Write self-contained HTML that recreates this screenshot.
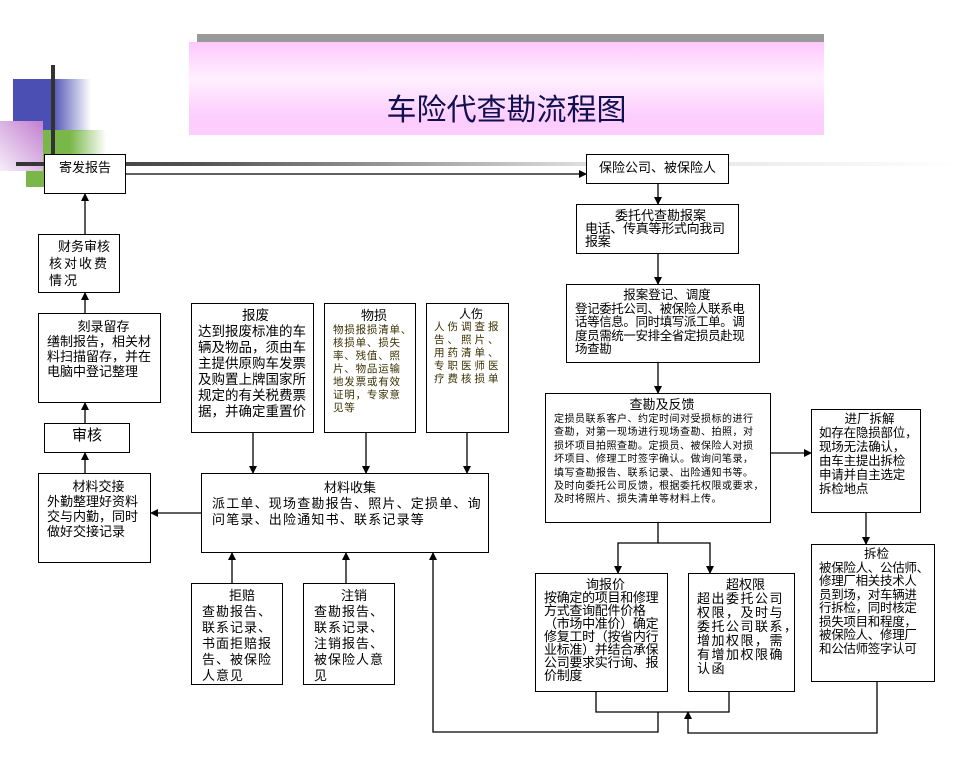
<!DOCTYPE html>
<html><head><meta charset="utf-8"><style>
body{margin:0;width:964px;height:765px;position:relative;overflow:hidden;background:#fff;font-family:"Liberation Sans","Noto Sans CJK SC","WenQuanYi Zen Hei",sans-serif;color:#000}
.b{position:absolute;border:1.5px solid #000;background:#fff;box-sizing:border-box;font-size:12.5px;line-height:14px;padding:2px 4px;white-space:nowrap;overflow:hidden}
.c{text-align:center}
.t{text-align:center;display:block;letter-spacing:0}
</style></head><body>
<div style="position:absolute;left:197px;top:34px;width:627px;height:10px;background:#999"></div>
<div style="position:absolute;left:189px;top:42px;width:635px;height:93px;background:linear-gradient(#fdc8fd,#fff0ff 40%,#fdcdfd 80%)"></div>
<div style="position:absolute;left:189px;top:92px;width:635px;text-align:center;font-size:30px;line-height:38px;color:#101050">车险代查勘流程图</div>
<div style="position:absolute;left:13px;top:79px;width:78px;height:52px;background:linear-gradient(90deg,#4b4fb3 50%,rgba(75,79,179,0) 100%)"></div>
<div style="position:absolute;left:26px;top:130px;width:80px;height:57px;background:linear-gradient(90deg,#79b848 55%,rgba(121,184,72,0) 100%)"></div>
<div style="position:absolute;left:0;top:121px;width:43px;height:50px;background:linear-gradient(225deg,#c27fd0,#f7eef9)"></div>
<div style="position:absolute;left:51px;top:65px;width:4px;height:92px;background:#333"></div>
<div style="position:absolute;left:16px;top:162px;width:940px;height:4px;background:linear-gradient(90deg,#333,#555 20%,#ddd 60%,#fff)"></div>
<svg width="964" height="765" style="position:absolute;left:0;top:0">
<defs><marker id="a" markerWidth="8" markerHeight="8" refX="7" refY="4" orient="auto" markerUnits="userSpaceOnUse"><path d="M0,0L8,4L0,8z"/></marker></defs>
<g stroke="#000" stroke-width="1.3" fill="none">
<line x1="126" y1="174" x2="586" y2="174" marker-end="url(#a)"/>
<line x1="658" y1="184" x2="658" y2="204" marker-end="url(#a)"/>
<line x1="658" y1="254" x2="658" y2="284" marker-end="url(#a)"/>
<line x1="658" y1="363" x2="658" y2="393" marker-end="url(#a)"/>
<line x1="771" y1="453" x2="811" y2="453" marker-end="url(#a)"/>
<line x1="866" y1="513" x2="866" y2="544" marker-end="url(#a)"/>
<polyline points="658,523 658,543 618,543 618,573" marker-end="url(#a)"/>
<polyline points="658,543 710,543 710,573" marker-end="url(#a)"/>
<polyline points="596,692 596,712 729,712 729,692"/>
<polyline points="658,712 658,732 433,732 433,553" marker-end="url(#a)"/>
<polyline points="877,682 877,733 688,733 688,712" marker-end="url(#a)"/>
<line x1="85" y1="234" x2="85" y2="194" marker-end="url(#a)"/>
<line x1="85" y1="313" x2="85" y2="293" marker-end="url(#a)"/>
<line x1="85" y1="423" x2="85" y2="403" marker-end="url(#a)"/>
<line x1="85" y1="473" x2="85" y2="453" marker-end="url(#a)"/>
<line x1="201" y1="513" x2="151" y2="513" marker-end="url(#a)"/>
<line x1="253" y1="433" x2="253" y2="473" marker-end="url(#a)"/>
<line x1="366" y1="433" x2="366" y2="473" marker-end="url(#a)"/>
<line x1="467" y1="433" x2="467" y2="473" marker-end="url(#a)"/>
<line x1="232" y1="583" x2="232" y2="553" marker-end="url(#a)"/>
<line x1="346" y1="583" x2="346" y2="553" marker-end="url(#a)"/>
</g></svg>
<div class="b c" style="left:44px;top:154px;width:82px;height:40px;font-size:13px;padding-top:6px">寄发报告</div>
<div class="b c" style="left:586px;top:154px;width:143px;height:30px;font-size:13px;padding-top:6px">保险公司、被保险人</div>
<div class="b" style="left:576px;top:204px;width:163px;height:50px;font-size:13px;line-height:13px;padding:4px 2px 0 8px;letter-spacing:-0.3px"><span class="t">委托代查勘报案</span>电话、传真等形式向我司<br>报案</div>
<div class="b" style="left:566px;top:284px;width:194px;height:79px;font-size:12.5px;line-height:13.5px;padding:4px 0 0 8px;letter-spacing:-0.4px"><span class="t">报案登记、调度</span>登记委托公司、被保险人联系电<br>话等信息。同时填写派工单。调<br>度员需统一安排全省定损员赴现<br>场查勘</div>
<div class="b" style="left:545px;top:393px;width:226px;height:130px;font-size:10px;line-height:13.4px;padding:3px 0 0 8px;letter-spacing:0.5px"><span class="t" style="font-size:13px;line-height:16px">查勘及反馈</span>定损员联系客户、约定时间对受损标的进行<br>查勘，对第一现场进行现场查勘、拍照，对<br>损坏项目拍照查勘。定损员、被保险人对损<br>坏项目、修理工时签字确认。做询问笔录，<br>填写查勘报告、联系记录、出险通知书等。<br>及时向委托公司反馈，根据委托权限或要求，<br>及时将照片、损失清单等材料上传。</div>
<div class="b" style="left:811px;top:409px;width:110px;height:104px;font-size:12.5px;line-height:14px;padding:2px 0 0 7px;letter-spacing:-0.2px"><span class="t">进厂拆解</span>如存在隐损部位，<br>现场无法确认，<br>由车主提出拆检<br>申请并自主选定<br>拆检地点</div>
<div class="b" style="left:811px;top:544px;width:124px;height:138px;font-size:12.5px;line-height:13.5px;padding:3px 0 0 7px;letter-spacing:-0.3px"><span class="t">拆检</span>被保险人、公估师、<br>修理厂相关技术人<br>员到场，对车辆进<br>行拆检，同时核定<br>损失项目和程度，<br>被保险人、修理厂<br>和公估师签字认可</div>
<div class="b" style="left:535px;top:573px;width:133px;height:119px;font-size:13px;line-height:13px;padding:4px 0 0 8px;letter-spacing:-0.3px"><span class="t">询报价</span>按确定的项目和修理<br>方式查询配件价格<br>（市场中准价）确定<br>修复工时（按省内行<br>业标准）并结合承保<br>公司要求实行询、报<br>价制度</div>
<div class="b" style="left:688px;top:573px;width:107px;height:119px;font-size:13px;line-height:14px;padding:4px 0 0 8px;letter-spacing:1.5px"><span class="t">超权限</span>超出委托公司<br>权限，及时与<br>委托公司联系，<br>增加权限，需<br>有增加权限确<br>认函</div>
<div class="b" style="left:201px;top:473px;width:288px;height:80px;font-size:13px;line-height:16px;padding:6px 0 0 10px;letter-spacing:1.2px"><span class="t">材料收集</span>派工单、现场查勘报告、照片、定损单、询<br>问笔录、出险通知书、联系记录等</div>
<div class="b" style="left:191px;top:303px;width:123px;height:130px;font-size:13.5px;line-height:16px;padding:4px 0 0 6px"><span class="t">报废</span>达到报废标准的车<br>辆及物品，须由车<br>主提供原购车发票<br>及购置上牌国家所<br>规定的有关税费票<br>据，并确定重置价</div>
<div class="b" style="left:324px;top:303px;width:92px;height:130px;font-size:10.5px;line-height:13px;padding:4px 0 0 8px;color:#3a3000;letter-spacing:0.8px"><span class="t" style="font-size:13px;line-height:16px;color:#000">物损</span>物损报损清单、<br>核损单、损失<br>率、残值、照<br>片、物品运输<br>地发票或有效<br>证明，专家意<br>见等</div>
<div class="b" style="left:426px;top:303px;width:83px;height:130px;font-size:10.5px;line-height:13px;padding:4px 0 0 7px;color:#3a3000;letter-spacing:3px"><span class="t" style="font-size:12px;line-height:13px;color:#000">人伤</span>人伤调查报<br>告、照片、<br>用药清单、<br>专职医师医<br>疗费核损单</div>
<div class="b" style="left:38px;top:234px;width:82px;height:59px;font-size:13px;line-height:17px;padding:3px 0 0 10px;letter-spacing:2px"><span class="t">财务审核</span>核对收费<br>情况</div>
<div class="b" style="left:38px;top:313px;width:123px;height:90px;font-size:13px;line-height:15px;padding:5px 0 0 8px"><span class="t">刻录留存</span>缮制报告，相关材<br>料扫描留存，并在<br>电脑中登记整理</div>
<div class="b c" style="left:44px;top:423px;width:86px;height:30px;font-size:15px;padding-top:5px">审核</div>
<div class="b" style="left:38px;top:473px;width:113px;height:90px;font-size:13px;line-height:15px;padding:5px 0 0 8px"><span class="t">材料交接</span>外勤整理好资料<br>交与内勤，同时<br>做好交接记录</div>
<div class="b" style="left:191px;top:583px;width:92px;height:102px;font-size:13px;line-height:16px;padding:4px 0 0 10px;letter-spacing:1px"><span class="t">拒赔</span>查勘报告、<br>联系记录、<br>书面拒赔报<br>告、被保险<br>人意见</div>
<div class="b" style="left:303px;top:583px;width:92px;height:102px;font-size:13px;line-height:16px;padding:4px 0 0 10px;letter-spacing:1px"><span class="t">注销</span>查勘报告、<br>联系记录、<br>注销报告、<br>被保险人意<br>见</div>
</body></html>
